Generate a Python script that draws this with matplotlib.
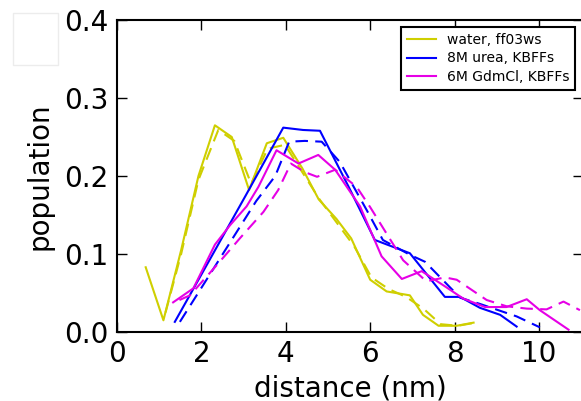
import matplotlib
matplotlib.use('Agg')
import matplotlib.pyplot as plt
from matplotlib.patches import Rectangle

# water, ff03ws
water_x      = [0.68, 1.10, 1.52, 1.93, 2.32, 2.72, 3.13, 3.55, 3.94, 4.39, 4.78, 5.20, 5.55, 6.00, 6.39, 6.94, 7.25, 7.62, 8.05, 8.45]
water_y      = [0.083, 0.015, 0.105, 0.200, 0.265, 0.250, 0.182, 0.242, 0.249, 0.210, 0.170, 0.145, 0.120, 0.067, 0.052, 0.047, 0.022, 0.008, 0.008, 0.012]
water_dash_x = [1.15, 1.52, 1.93, 2.40, 2.78, 3.18, 3.57, 3.98, 4.39, 4.80, 5.21, 5.62, 6.03, 6.44, 6.85, 7.26, 7.67, 8.08, 8.50]
water_dash_y = [0.025, 0.100, 0.195, 0.259, 0.245, 0.190, 0.235, 0.240, 0.205, 0.170, 0.140, 0.110, 0.070, 0.055, 0.045, 0.030, 0.010, 0.008, 0.012]

# 8M urea, KBFFs
urea_x      = [1.37, 2.20, 3.05, 3.94, 4.41, 4.81, 5.50, 6.11, 6.94, 7.77, 8.13, 8.60, 9.08, 9.47]
urea_y      = [0.013, 0.093, 0.175, 0.262, 0.259, 0.258, 0.185, 0.118, 0.101, 0.045, 0.045, 0.031, 0.022, 0.007]
urea_dash_x = [1.49, 2.60, 3.30, 3.75, 4.08, 4.45, 4.85, 5.28, 5.92, 6.30, 6.94, 7.30, 8.13, 8.60, 9.47, 10.02]
urea_dash_y = [0.013, 0.108, 0.168, 0.200, 0.244, 0.245, 0.244, 0.218, 0.156, 0.118, 0.099, 0.090, 0.044, 0.036, 0.020, 0.006]

# 6M GdmCl, KBFFs
gdm_x      = [1.33, 1.81, 2.32, 2.68, 3.07, 3.35, 3.78, 4.30, 4.77, 5.17, 5.76, 6.27, 6.75, 7.22, 7.73, 8.20, 8.72, 9.23, 9.71, 10.02, 10.70]
gdm_y      = [0.038, 0.056, 0.112, 0.137, 0.161, 0.186, 0.233, 0.216, 0.227, 0.208, 0.161, 0.097, 0.068, 0.078, 0.060, 0.043, 0.032, 0.032, 0.042, 0.028, 0.003]
gdm_dash_x = [1.48, 1.73, 2.40, 2.91, 3.47, 3.82, 4.12, 4.45, 4.74, 5.17, 5.68, 6.00, 6.39, 6.78, 7.33, 7.77, 8.05, 8.76, 9.23, 9.71, 10.18, 10.58, 10.97]
gdm_dash_y = [0.041, 0.047, 0.088, 0.120, 0.154, 0.182, 0.216, 0.205, 0.199, 0.208, 0.186, 0.160, 0.126, 0.092, 0.065, 0.070, 0.067, 0.041, 0.033, 0.030, 0.029, 0.039, 0.028]

labels = ['water, ff03ws', '8M urea, KBFFs', '6M GdmCl, KBFFs']
colors = ['#cfcf00', '#0000ff', '#e600e6']

xticks = [0, 2, 4, 6, 8, 10]
yticks = [0.0, 0.1, 0.2, 0.3, 0.4]

plt.rcParams['font.family'] = 'DejaVu Sans'

fig = plt.figure(figsize=(5.81, 4.01), dpi=100)
ax = fig.add_axes([117/581, 1-332/401, 466.3/581, 312/401])

lw = 1.5
dash = (6, 3.5)
series = [(water_x, water_y, water_dash_x, water_dash_y),
          (urea_x, urea_y, urea_dash_x, urea_dash_y),
          (gdm_x, gdm_y, gdm_dash_x, gdm_dash_y)]
for (sx, sy, dx, dy), lab, c in zip(series, labels, colors):
    ax.plot(sx, sy, color=c, lw=lw, label=lab, clip_on=False)
    ax.plot(dx, dy, color=c, lw=lw, dashes=dash, clip_on=False)

ax.set_xlim(0, 11.05)
ax.set_ylim(0, 0.4)
ax.set_xticks(xticks)
ax.set_yticks(yticks)
ax.tick_params(direction='in', length=7, width=1, top=True, right=True,
               labelsize=20, pad=6)
for sp in ax.spines.values():
    sp.set_linewidth(1.5)

ax.set_xlabel('distance (nm)', fontsize=20)
ax.set_ylabel('population', fontsize=20)
ax.xaxis.set_label_coords((350-117)/466.3, (332-374)/312)
ax.yaxis.set_label_coords((54-117)/466.3, 0.5)
ax.set_title('(b)', fontsize=20, x=(362-117)/466.3, pad=21)

leg = ax.legend(loc='upper right', bbox_to_anchor=(575/581, 1-27/401),
                bbox_transform=fig.transFigure, borderaxespad=0,
                fontsize=10, fancybox=False, framealpha=1, edgecolor='black',
                handlelength=2.1, handletextpad=0.8, labelspacing=0.35,
                borderpad=0.4)
leg.get_frame().set_linewidth(1.5)

# faint empty box in the top-left corner
fig.patches.append(Rectangle((13/581, 1-65/401), 45/581, 52/401,
                             transform=fig.transFigure, facecolor='white',
                             edgecolor='#ececec', lw=1))

fig.savefig('out.png', dpi=100)
